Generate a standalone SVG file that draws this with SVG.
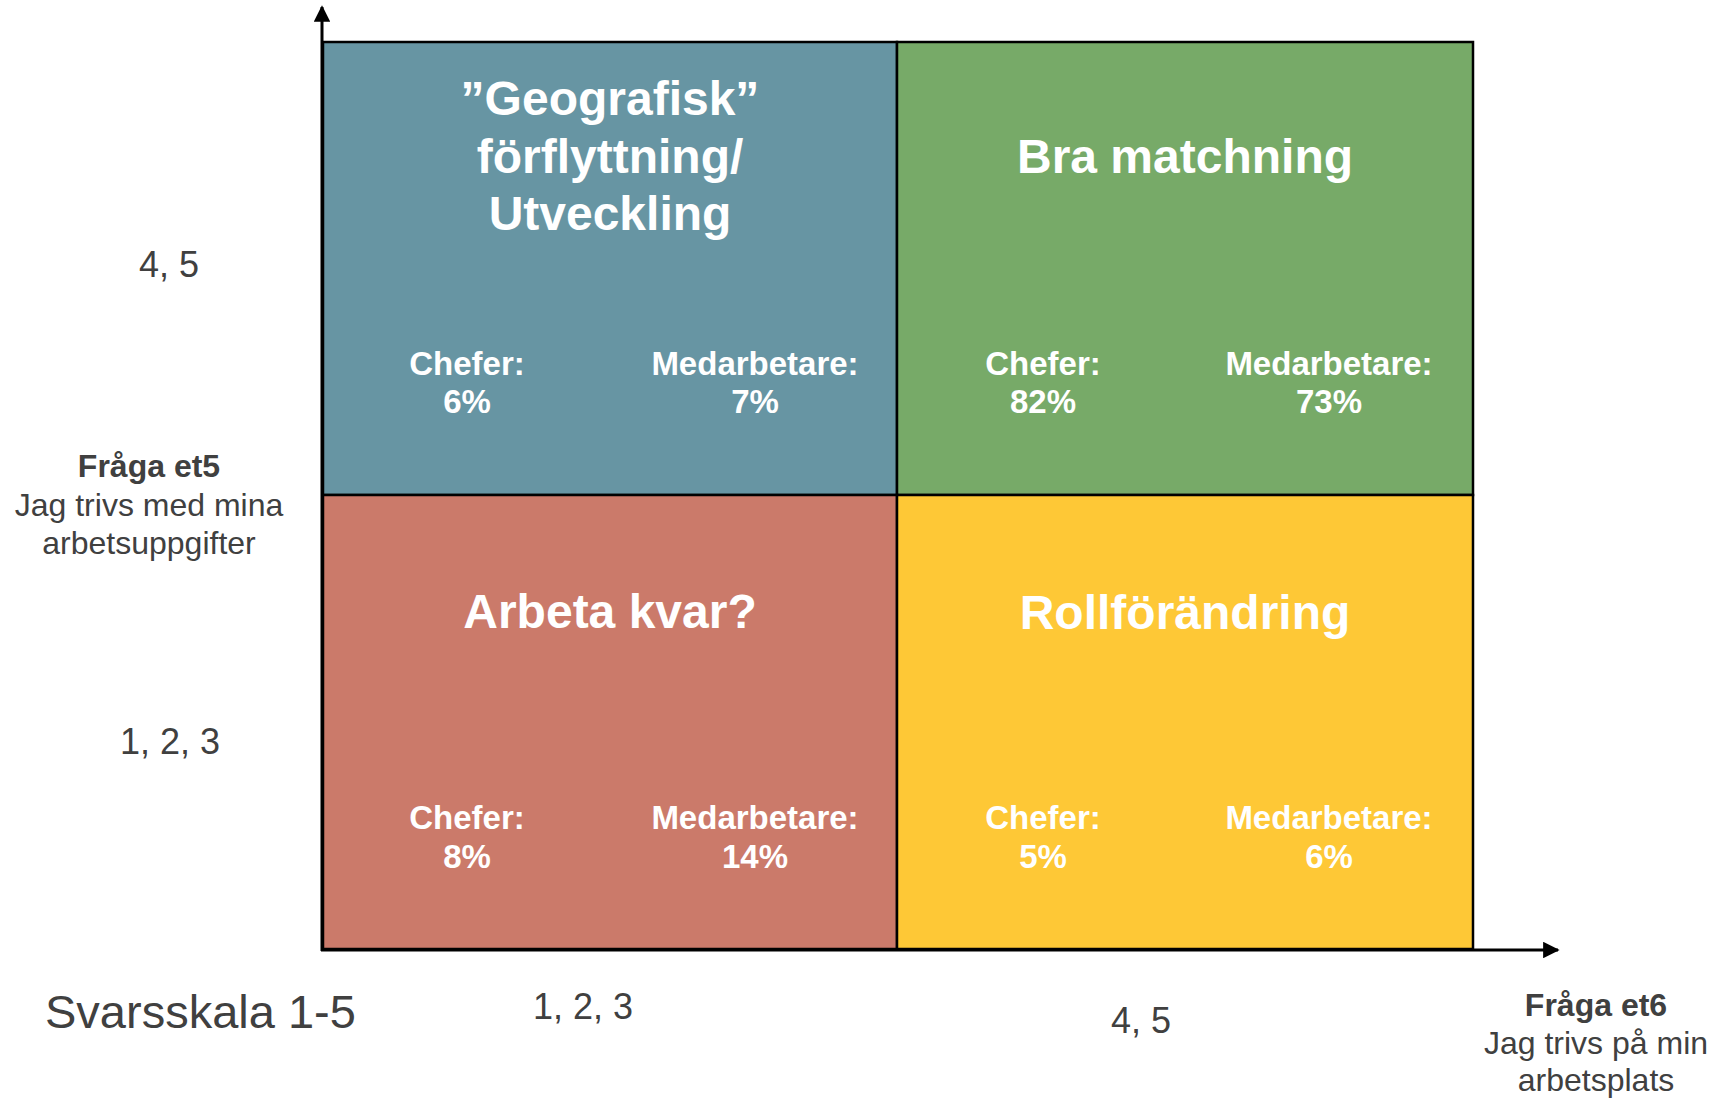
<svg xmlns="http://www.w3.org/2000/svg" width="1716" height="1098" viewBox="0 0 1716 1098">
  <style>
    .q { stroke: #000; stroke-width: 2.5; }
    .title { font-family: "Liberation Sans", Arial, sans-serif; font-weight: bold; font-size: 48px; fill: #fff; text-anchor: middle; }
    .val { font-family: "Liberation Sans", Arial, sans-serif; font-weight: bold; font-size: 33px; fill: #fff; text-anchor: middle; }
    .ax { font-family: "Liberation Sans", Arial, sans-serif; font-size: 36px; fill: #404040; text-anchor: middle; }
    .lbl { font-family: "Liberation Sans", Arial, sans-serif; font-size: 32px; fill: #404040; text-anchor: middle; }
    .axis { stroke: #000; stroke-width: 3; fill: none; }
  </style>
  <defs>
    <marker id="arrow" viewBox="0 0 10 10" refX="9" refY="5" markerWidth="5.5" markerHeight="5.5" orient="auto" markerUnits="strokeWidth">
      <path d="M0,0 L10,5 L0,10 z" fill="#000"/>
    </marker>
  </defs>
  <rect width="1716" height="1098" fill="#fff"/>

  <g id="q-geografisk">
    <rect class="q" x="323" y="42" width="574" height="453" fill="#6795a3"/>
    <text class="title" x="610" y="115">”Geografisk”</text>
    <text class="title" x="610" y="173">förflyttning/</text>
    <text class="title" x="610" y="230">Utveckling</text>
    <text class="val" x="467" y="375">Chefer:</text>
    <text class="val" x="467" y="413">6%</text>
    <text class="val" x="755" y="375">Medarbetare:</text>
    <text class="val" x="755" y="413">7%</text>
  </g>

  <g id="q-bra-matchning">
    <rect class="q" x="897" y="42" width="576" height="453" fill="#77aa68"/>
    <text class="title" x="1185" y="173">Bra matchning</text>
    <text class="val" x="1043" y="375">Chefer:</text>
    <text class="val" x="1043" y="413">82%</text>
    <text class="val" x="1329" y="375">Medarbetare:</text>
    <text class="val" x="1329" y="413">73%</text>
  </g>

  <g id="q-arbeta-kvar">
    <rect class="q" x="323" y="495" width="574" height="454" fill="#cb7a6a"/>
    <text class="title" x="610" y="628">Arbeta kvar?</text>
    <text class="val" x="467" y="829">Chefer:</text>
    <text class="val" x="467" y="868">8%</text>
    <text class="val" x="755" y="829">Medarbetare:</text>
    <text class="val" x="755" y="868">14%</text>
  </g>

  <g id="q-rollforandring">
    <rect class="q" x="897" y="495" width="576" height="454" fill="#fec836"/>
    <text class="title" x="1185" y="629">Rollförändring</text>
    <text class="val" x="1043" y="829">Chefer:</text>
    <text class="val" x="1043" y="868">5%</text>
    <text class="val" x="1329" y="829">Medarbetare:</text>
    <text class="val" x="1329" y="868">6%</text>
  </g>

  <g id="connectors">
    <line class="axis" x1="322" y1="951" x2="322" y2="7" marker-end="url(#arrow)"/>
    <line class="axis" x1="321" y1="950" x2="1558" y2="950" marker-end="url(#arrow)"/>
  </g>

  <g id="labels">
    <text class="ax" x="169" y="277">4, 5</text>
    <text class="ax" x="170" y="754">1, 2, 3</text>
    <text class="lbl" x="149" y="477" font-weight="bold">Fråga et5</text>
    <text class="lbl" x="149" y="516">Jag trivs med mina</text>
    <text class="lbl" x="149" y="554">arbetsuppgifter</text>
    <text class="ax" x="45" y="1028" style="text-anchor:start;font-size:47px">Svarsskala 1-5</text>
    <text class="ax" x="583" y="1019">1, 2, 3</text>
    <text class="ax" x="1141" y="1033">4, 5</text>
    <text class="lbl" x="1596" y="1016" font-weight="bold">Fråga et6</text>
    <text class="lbl" x="1596" y="1054">Jag trivs på min</text>
    <text class="lbl" x="1596" y="1091">arbetsplats</text>
  </g>
</svg>
